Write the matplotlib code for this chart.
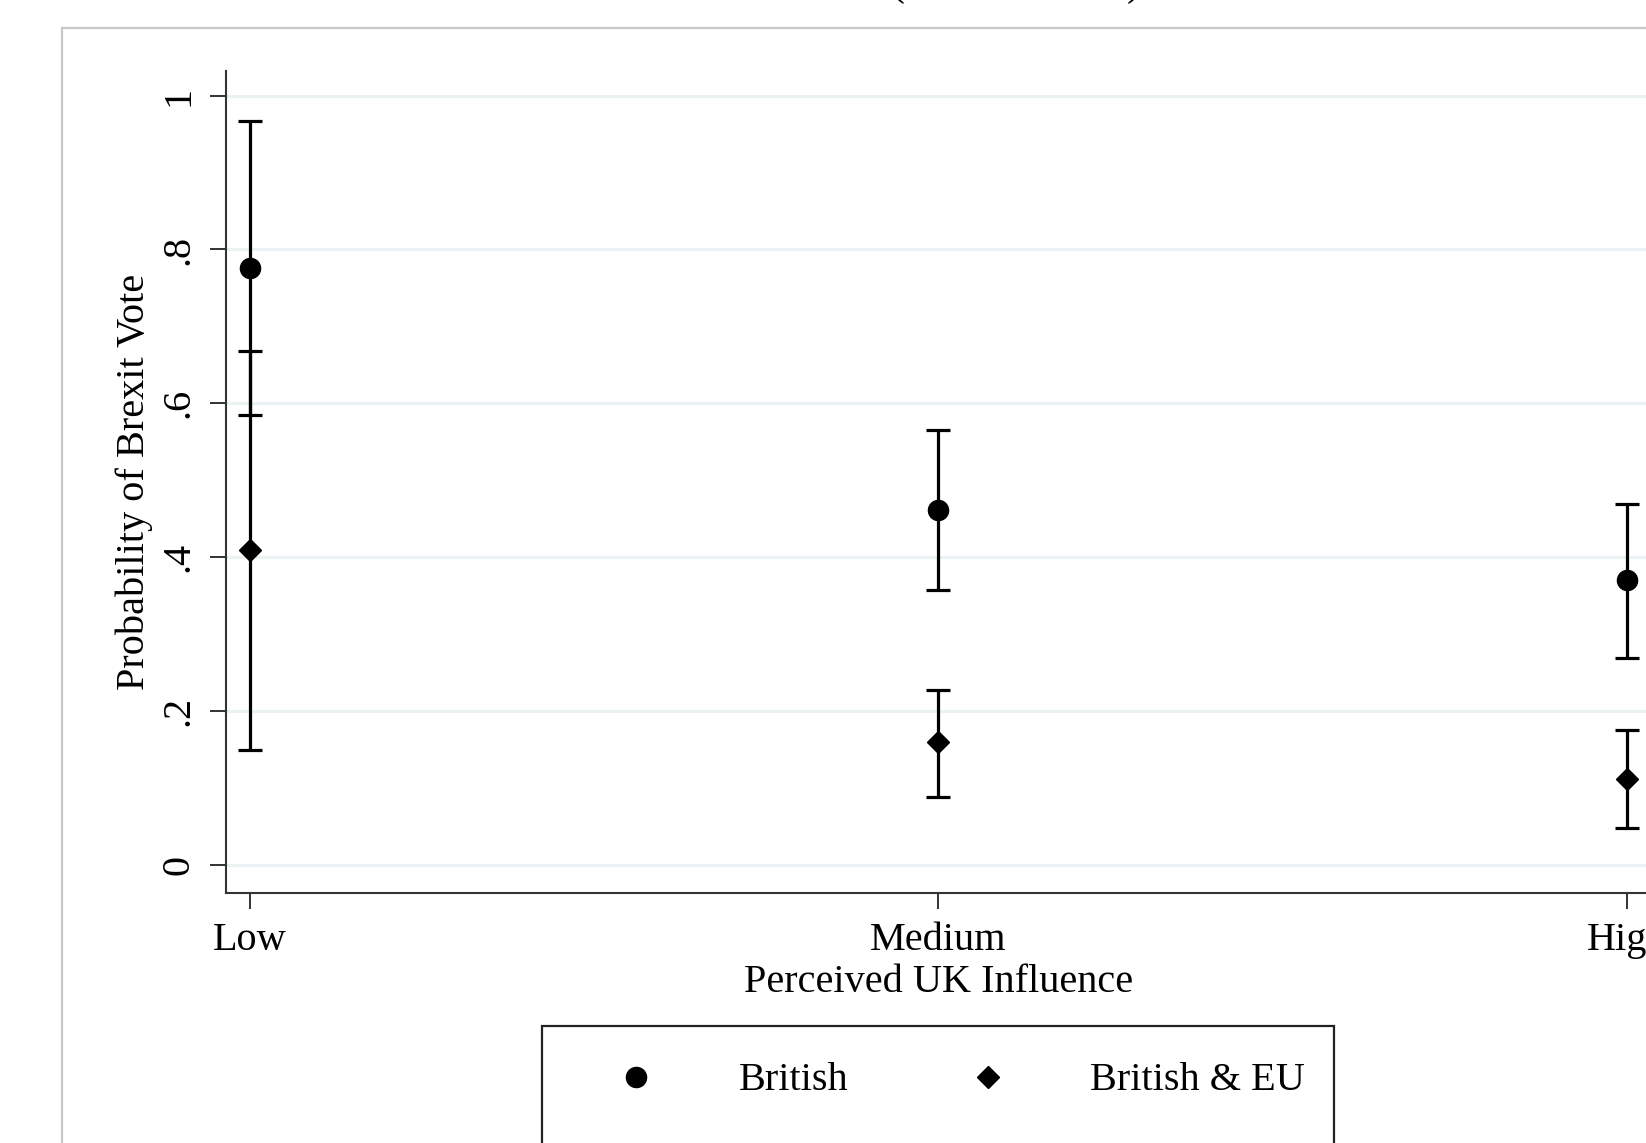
import matplotlib.pyplot as plt
from matplotlib.patches import Rectangle

# predicted probabilities with 95% CIs
levels = ["Low", "Medium", "High"]
xpos = [1, 2, 3]

british = [0.776, 0.461, 0.370]
british_lo = [0.585, 0.357, 0.269]
british_hi = [0.967, 0.565, 0.469]

british_eu = [0.409, 0.160, 0.112]
british_eu_lo = [0.149, 0.089, 0.048]
british_eu_hi = [0.668, 0.228, 0.176]

yticks = [0, 0.2, 0.4, 0.6, 0.8, 1]
ytick_labels = ["0", ".2", ".4", ".6", ".8", "1"]

W, H = 1646, 1143
plt.rcParams["font.family"] = ["Liberation Serif", "DejaVu Serif"]
fig = plt.figure(figsize=(W / 100, H / 100), dpi=100)

# grey graph-region frame, runs off the right and bottom edges
fig.add_artist(Rectangle((62 / W, -0.2), 1.5, (H - 28) / H + 0.2,
                         transform=fig.transFigure, fill=False,
                         edgecolor="#c8c8c8", linewidth=1.6))

# cut-off title: only the parentheses' tails are visible
fig.text(897 / W, 1 + 5 / H, "(", fontsize=30, ha="center", va="baseline",
         color="black")
fig.text(1134 / W, 1 + 5 / H, ")", fontsize=30, ha="center", va="baseline",
         color="black")

left, right = 225.7 / W, 1651 / W
bottom, top = (H - 893) / H, (H - 71) / H
ax = fig.add_axes([left, bottom, right - left, top - bottom])

ax.set_xlim(0.965, 3.035)
ax.set_ylim(-0.0364, 1.032)

for y in yticks:
    ax.axhline(y, color="#eaf2f3", linewidth=2.2, zorder=0)


def draw(vals, lo, hi, marker, ms, label):
    err = [[v - l for v, l in zip(vals, lo)], [h - v for v, h in zip(vals, hi)]]
    ax.errorbar(xpos, vals, yerr=err, fmt="none", ecolor="black",
                elinewidth=2.3, capsize=8.5, capthick=2.3, zorder=2)
    ax.plot(xpos, vals, linestyle="none", marker=marker, markersize=ms,
            color="black", zorder=3, label=label)


draw(british, british_lo, british_hi, "o", 14.5, "British")
draw(british_eu, british_eu_lo, british_eu_hi, "D", 11, "British & EU")

for side in ["top", "right"]:
    ax.spines[side].set_visible(False)
for side in ["left", "bottom"]:
    ax.spines[side].set_linewidth(1.5)
    ax.spines[side].set_color("#333333")

ax.set_yticks(yticks)
ax.set_yticklabels(ytick_labels, rotation=90, va="center", fontsize=29)
ax.set_xticks(xpos)
ax.set_xticklabels(levels, fontsize=29)
ax.tick_params(axis="both", length=11.5, width=1.4, color="#333333")
ax.tick_params(axis="y", pad=9)
ax.tick_params(axis="x", pad=9.5)

ax.set_xlabel("Perceived UK Influence", fontsize=29, labelpad=3.5)
ax.set_ylabel("Probability of Brexit Vote", fontsize=29, labelpad=5)

# legend box at the bottom, partly cut off
box_l, box_r = 541.6 / W, 1334 / W
box_t = (H - 1025.5) / H
fig.add_artist(Rectangle((box_l, -0.1), box_r - box_l, box_t + 0.1,
                         transform=fig.transFigure, fill=False,
                         edgecolor="#222222", linewidth=1.6))
ly = (H - 1077) / H
ty = (H - 1081) / H
fig.add_artist(plt.Line2D([636 / W], [ly], marker="o", markersize=14.5,
                          color="black", transform=fig.transFigure))
fig.text(739 / W, ty, "British", fontsize=29, va="center", ha="left")
fig.add_artist(plt.Line2D([988 / W], [ly], marker="D", markersize=11,
                          color="black", transform=fig.transFigure))
fig.text(1089.6 / W, ty, "British & EU", fontsize=29, va="center", ha="left")

fig.savefig("out.png", dpi=100)
